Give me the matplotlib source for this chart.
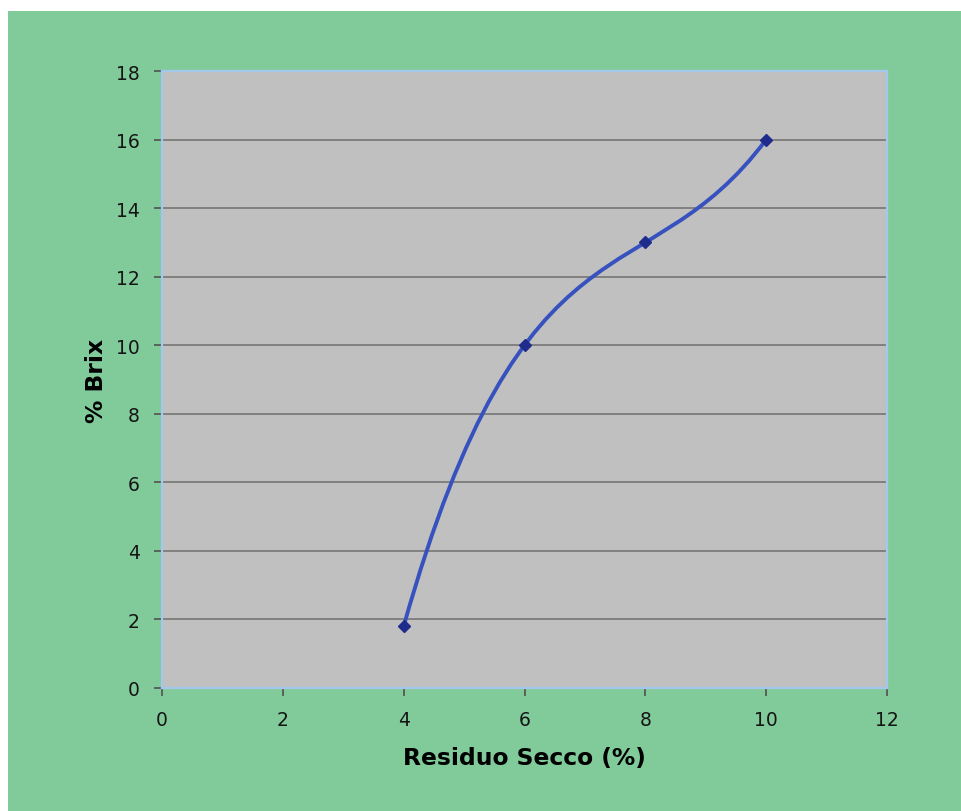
#grafico brix vs residuo secco
import numpy as np
import matplotlib.pyplot as plt
from matplotlib.path import Path
from matplotlib.patches import PathPatch, Rectangle

# data
residuo = [4, 6, 8, 10]
brix = [1.8, 10, 13, 16]
x_ticks = [0, 2, 4, 6, 8, 10, 12]
y_ticks = [0, 2, 4, 6, 8, 10, 12, 14, 16, 18]

green = '#81CB9B'
plot_grey = '#C0C0C0'
grid_grey = '#808080'
frame_blue = '#A4C8EC'
line_blue = '#3752BE'
marker_blue = '#1F2C8C'

fig = plt.figure(figsize=(9.62, 8.12), dpi=100, facecolor='white')
# green chart area, white strip on top and left
fig.add_artist(Rectangle((8/962, 0), 1 - 8/962, 1 - 12/812,
                         transform=fig.transFigure, facecolor=green,
                         edgecolor='none', zorder=0))

ax = fig.add_axes([162/962, 1 - 689/812, 725/962, 617/812])
ax.set_facecolor(plot_grey)
ax.set_xlim(0, 12)
ax.set_ylim(0, 18)
ax.set_xticks(x_ticks)
ax.set_yticks(y_ticks)
ax.tick_params(direction='out', length=6, width=1.2, color='#505050',
               labelsize=13.5, labelcolor='#151515', pad=10)

for s in ax.spines.values():
    s.set_color(frame_blue)
    s.set_linewidth(1.6)

# horizontal gridlines only
ax.yaxis.grid(True, color=grid_grey, linewidth=1.4)
ax.set_axisbelow(True)

# smoothed line: one cubic through the 4 points (evenly spaced x), as a bezier
y0, y1, y2, y3 = brix
b1 = (-5*y0 + 18*y1 - 9*y2 + 2*y3) / 6
b2 = (2*y0 - 9*y1 + 18*y2 - 5*y3) / 6
verts = [(residuo[0], y0), (residuo[1], b1), (residuo[2], b2), (residuo[3], y3)]
codes = [Path.MOVETO, Path.CURVE4, Path.CURVE4, Path.CURVE4]
ax.add_patch(PathPatch(Path(verts, codes), facecolor='none',
                       edgecolor=line_blue, linewidth=2.8, zorder=3))

ax.plot(residuo, brix, linestyle='none', marker='D', markersize=6,
        color=marker_blue, zorder=4)

ax.set_xlabel('Residuo Secco (%)', fontsize=16.8, fontweight='bold', labelpad=12)
ax.set_ylabel('% Brix', fontsize=16.8, fontweight='bold', labelpad=6)

fig.savefig('out.png', dpi=100, facecolor=fig.get_facecolor())
